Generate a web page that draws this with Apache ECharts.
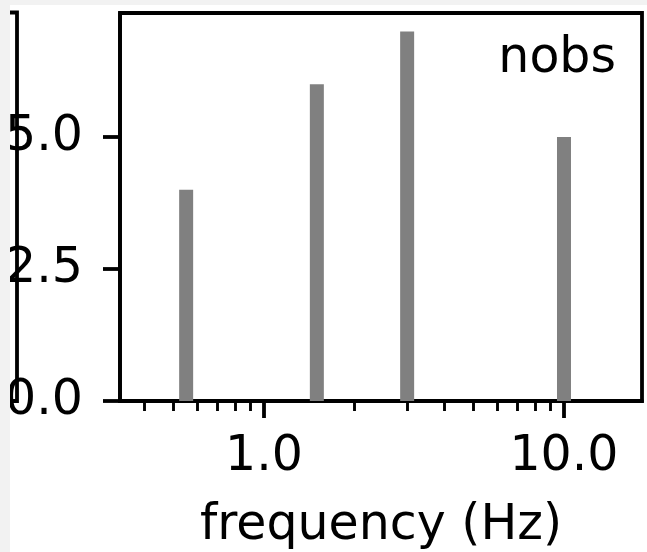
<!DOCTYPE html>
<html>
<head>
<meta charset="utf-8">
<script src="https://cdn.jsdelivr.net/npm/echarts@6/dist/echarts.min.js"></script>
<style>
  html, body { margin: 0; padding: 0; background: #f2f2f2; width: 647px; height: 552px; overflow: hidden; }
  #chart { position: absolute; left: 10px; top: 5px; width: 637px; height: 547px; background: #fff; }
</style>
</head>
<body>
<div id="chart"></div>
<script>
// frequency (Hz) vs number of observations
var freqs = [0.55, 1.5, 3.0, 10.0]
var nobs = [4, 6, 7, 5]
var xMajorTicks = [1, 10]
var xMinorTicks = [0.4, 0.5, 0.6, 0.7, 0.8, 0.9, 2, 3, 4, 5, 6, 7, 8, 9]
var yTicks = [0, 2.5, 5.0]

var font = 'DejaVu Sans'
var fs = 49
var lw = 3.8

var chart = echarts.init(document.getElementById('chart'))

var option = {
    animation: false,
    title: {
        text: 'nobs',
        right: 31,
        top: 30,
        padding: 0,
        textStyle: { fontFamily: font, fontSize: fs, fontWeight: 'normal', color: '#000' }
    },
    grid: {
        left: 110,
        right: 5,
        top: 8,
        bottom: 151,
        outerBoundsMode: 'none',
        containLabel: false,
        show: true,
        borderColor: '#000',
        borderWidth: lw,
        backgroundColor: 'transparent'
    },
    xAxis: [
        {
            type: 'log',
            logBase: 10,
            min: 0.331,
            max: 18.2,
            position: 'bottom',
            name: 'frequency (Hz)',
            nameLocation: 'middle',
            nameGap: 101,
            nameTextStyle: { fontFamily: font, fontSize: fs, color: '#000' },
            axisLine: { show: true, lineStyle: { color: '#000', width: lw } },
            axisTick: { show: true, length: 17, lineStyle: { color: '#000', width: lw }, customValues: xMajorTicks },
            axisLabel: {
                show: true, margin: 32, fontFamily: font, fontSize: fs, color: '#000',
                customValues: xMajorTicks,
                formatter: function (v) { return Number(v).toFixed(1) }
            },
            splitLine: { show: false },
            minorTick: { show: false },
            minorSplitLine: { show: false }
        },
        {
            type: 'log',
            logBase: 10,
            min: 0.331,
            max: 18.2,
            position: 'bottom',
            axisLine: { show: false },
            axisTick: { show: true, length: 10, lineStyle: { color: '#000', width: 2.9 }, customValues: xMinorTicks },
            axisLabel: { show: false },
            splitLine: { show: false }
        }
    ],
    yAxis: {
        type: 'value',
        min: 0,
        max: 7.35,
        axisLine: { show: true, lineStyle: { color: '#000', width: lw } },
        axisTick: { show: true, length: 17, lineStyle: { color: '#000', width: lw }, customValues: yTicks },
        axisLabel: {
            show: true, margin: 37, fontFamily: font, fontSize: fs, color: '#000',
            customValues: yTicks,
            formatter: function (v) { return Number(v).toFixed(1) }
        },
        splitLine: { show: false }
    },
    series: [
        {
            type: 'bar',
            xAxisIndex: 0,
            barWidth: 14,
            itemStyle: { color: '#808080' },
            data: freqs.map(function (f, i) { return [f, nobs[i]] })
        }
    ],
    graphic: [
        {
            // spine of the neighbouring panel, cut off at the left edge
            type: 'polyline',
            z: 100,
            shape: { points: [[-6, 7.5], [7, 7.5], [7, 396], [-6, 396]] },
            style: { stroke: '#000', lineWidth: lw, fill: null }
        }
    ]
}

chart.setOption(option)
</script>
</body>
</html>
